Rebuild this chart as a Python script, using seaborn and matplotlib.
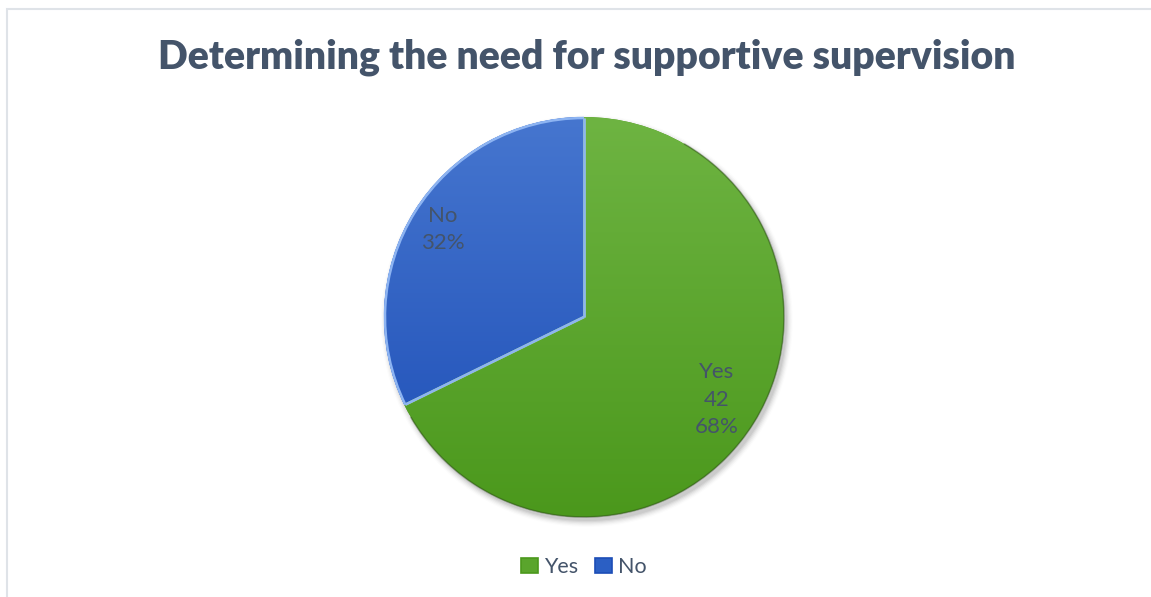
import numpy as np
import matplotlib
matplotlib.use("Agg")
import matplotlib.pyplot as plt
import matplotlib.patches as mpatches
from matplotlib.colors import LinearSegmentedColormap
import seaborn as sns

# Survey responses
categories = ["Yes", "No"]
counts = [42, 20]
label_lines = [["Yes", "42", "68%"], ["No", "32%"]]

title = "Determining the need for supportive supervision"

sns.set_theme(style="white")
plt.rcParams["font.family"] = ["Lato", "DejaVu Sans"]

W, H = 1151, 597
fig = plt.figure(figsize=(W / 100, H / 100), dpi=100)
fig.patch.set_facecolor("white")

# light chart frame
frame = mpatches.Rectangle((7 / W, -0.02), 1.2, 1 - 9 / H + 0.02,
                           transform=fig.transFigure, fill=False,
                           edgecolor="#dfe3e8", linewidth=1.5)
fig.patches.append(frame)

text_color = "#44546a"
fig.text(587 / W, 1 - 57 / H, title, ha="center", va="center",
         fontsize=28.2, fontweight="heavy", color=text_color)

# pie axes: centre (584, 317), radius 200 px
cx, cy, r = 584, 317, 200
pad = 1.08
ax = fig.add_axes([(cx - r * pad) / W, (H - cy - r * pad) / H,
                   2 * r * pad / W, 2 * r * pad / H])

fills = {
    "Yes": ("#6eb442", "#4b981c"),
    "No": ("#4676cf", "#1c4db6"),
}
edges = {"Yes": "#a8e07e", "No": "#8db4f2"}

wedges, _ = ax.pie(counts, startangle=90, counterclock=False, radius=1.0,
                   colors=[fills[c][1] for c in categories],
                   wedgeprops=dict(linewidth=0), center=(0, 0))
ax.set_xlim(-pad, pad)
ax.set_ylim(-pad, pad)
ax.set_aspect("equal")
ax.axis("off")

# soft drop shadow
for i, a in enumerate(np.linspace(0.06, 0.012, 6)):
    sh = mpatches.Circle((0.014, -0.02), 1.0 + 0.006 * i, color="#000000",
                         alpha=a, zorder=0, linewidth=0)
    ax.add_patch(sh)

grad = np.linspace(0, 1, 256).reshape(-1, 1)
for w, cat in zip(wedges, categories):
    cmap = LinearSegmentedColormap.from_list(cat, list(fills[cat]))
    im = ax.imshow(grad, cmap=cmap, extent=[-1, 1, -1, 1], origin="upper",
                   aspect="auto", zorder=2, interpolation="bilinear")
    im.set_clip_path(w)
    w.set_zorder(1)

# light highlight on the radial slice edges
for w, cat in zip(wedges, categories):
    for th in (w.theta1, w.theta2):
        t = np.deg2rad(th)
        ax.plot([0, 0.995 * np.cos(t)], [0, 0.995 * np.sin(t)],
                color=edges[cat], linewidth=1.8, zorder=3,
                solid_capstyle="butt")

# highlight on the upper-left outer edge of the blue slice
no_w = wedges[categories.index("No")]
hl = mpatches.Arc((0, 0), 1.99, 1.99, theta1=no_w.theta1, theta2=no_w.theta2,
                  edgecolor=edges["No"], linewidth=1.8, zorder=3)
ax.add_patch(hl)

# darker rim along the lower-right outer edge
rim = mpatches.Arc((0, 0), 2.0, 2.0, theta1=-150, theta2=60,
                   edgecolor="#2d4a1a", linewidth=1.2, alpha=0.45, zorder=4)
ax.add_patch(rim)

# data labels at the wedge middles
dists = {"Yes": 0.78, "No": 0.83}
for w, cat, lines in zip(wedges, categories, label_lines):
    mid = np.deg2rad((w.theta1 + w.theta2) / 2)
    x, y = dists[cat] * np.cos(mid), dists[cat] * np.sin(mid)
    ax.text(x, y, "\n".join(lines), ha="center", va="center",
            fontsize=16, color=text_color, linespacing=1.45, zorder=5)

# legend
handles = [mpatches.Patch(facecolor=c2, edgecolor=c2, linewidth=1.2, label=c)
           for c, c2 in zip(categories, ["#5aa52c", "#2b5fc4"])]
for h, c in zip(handles, categories):
    h.set_edgecolor(fills[c][1])
fig.legend(handles=handles, loc="center", bbox_to_anchor=(584 / W, 1 - 567 / H),
           ncol=2, frameon=False, fontsize=15.5, handlelength=0.75,
           handleheight=0.75, handletextpad=0.3, columnspacing=0.8,
           labelcolor=text_color)

fig.savefig("out.png", dpi=100)
